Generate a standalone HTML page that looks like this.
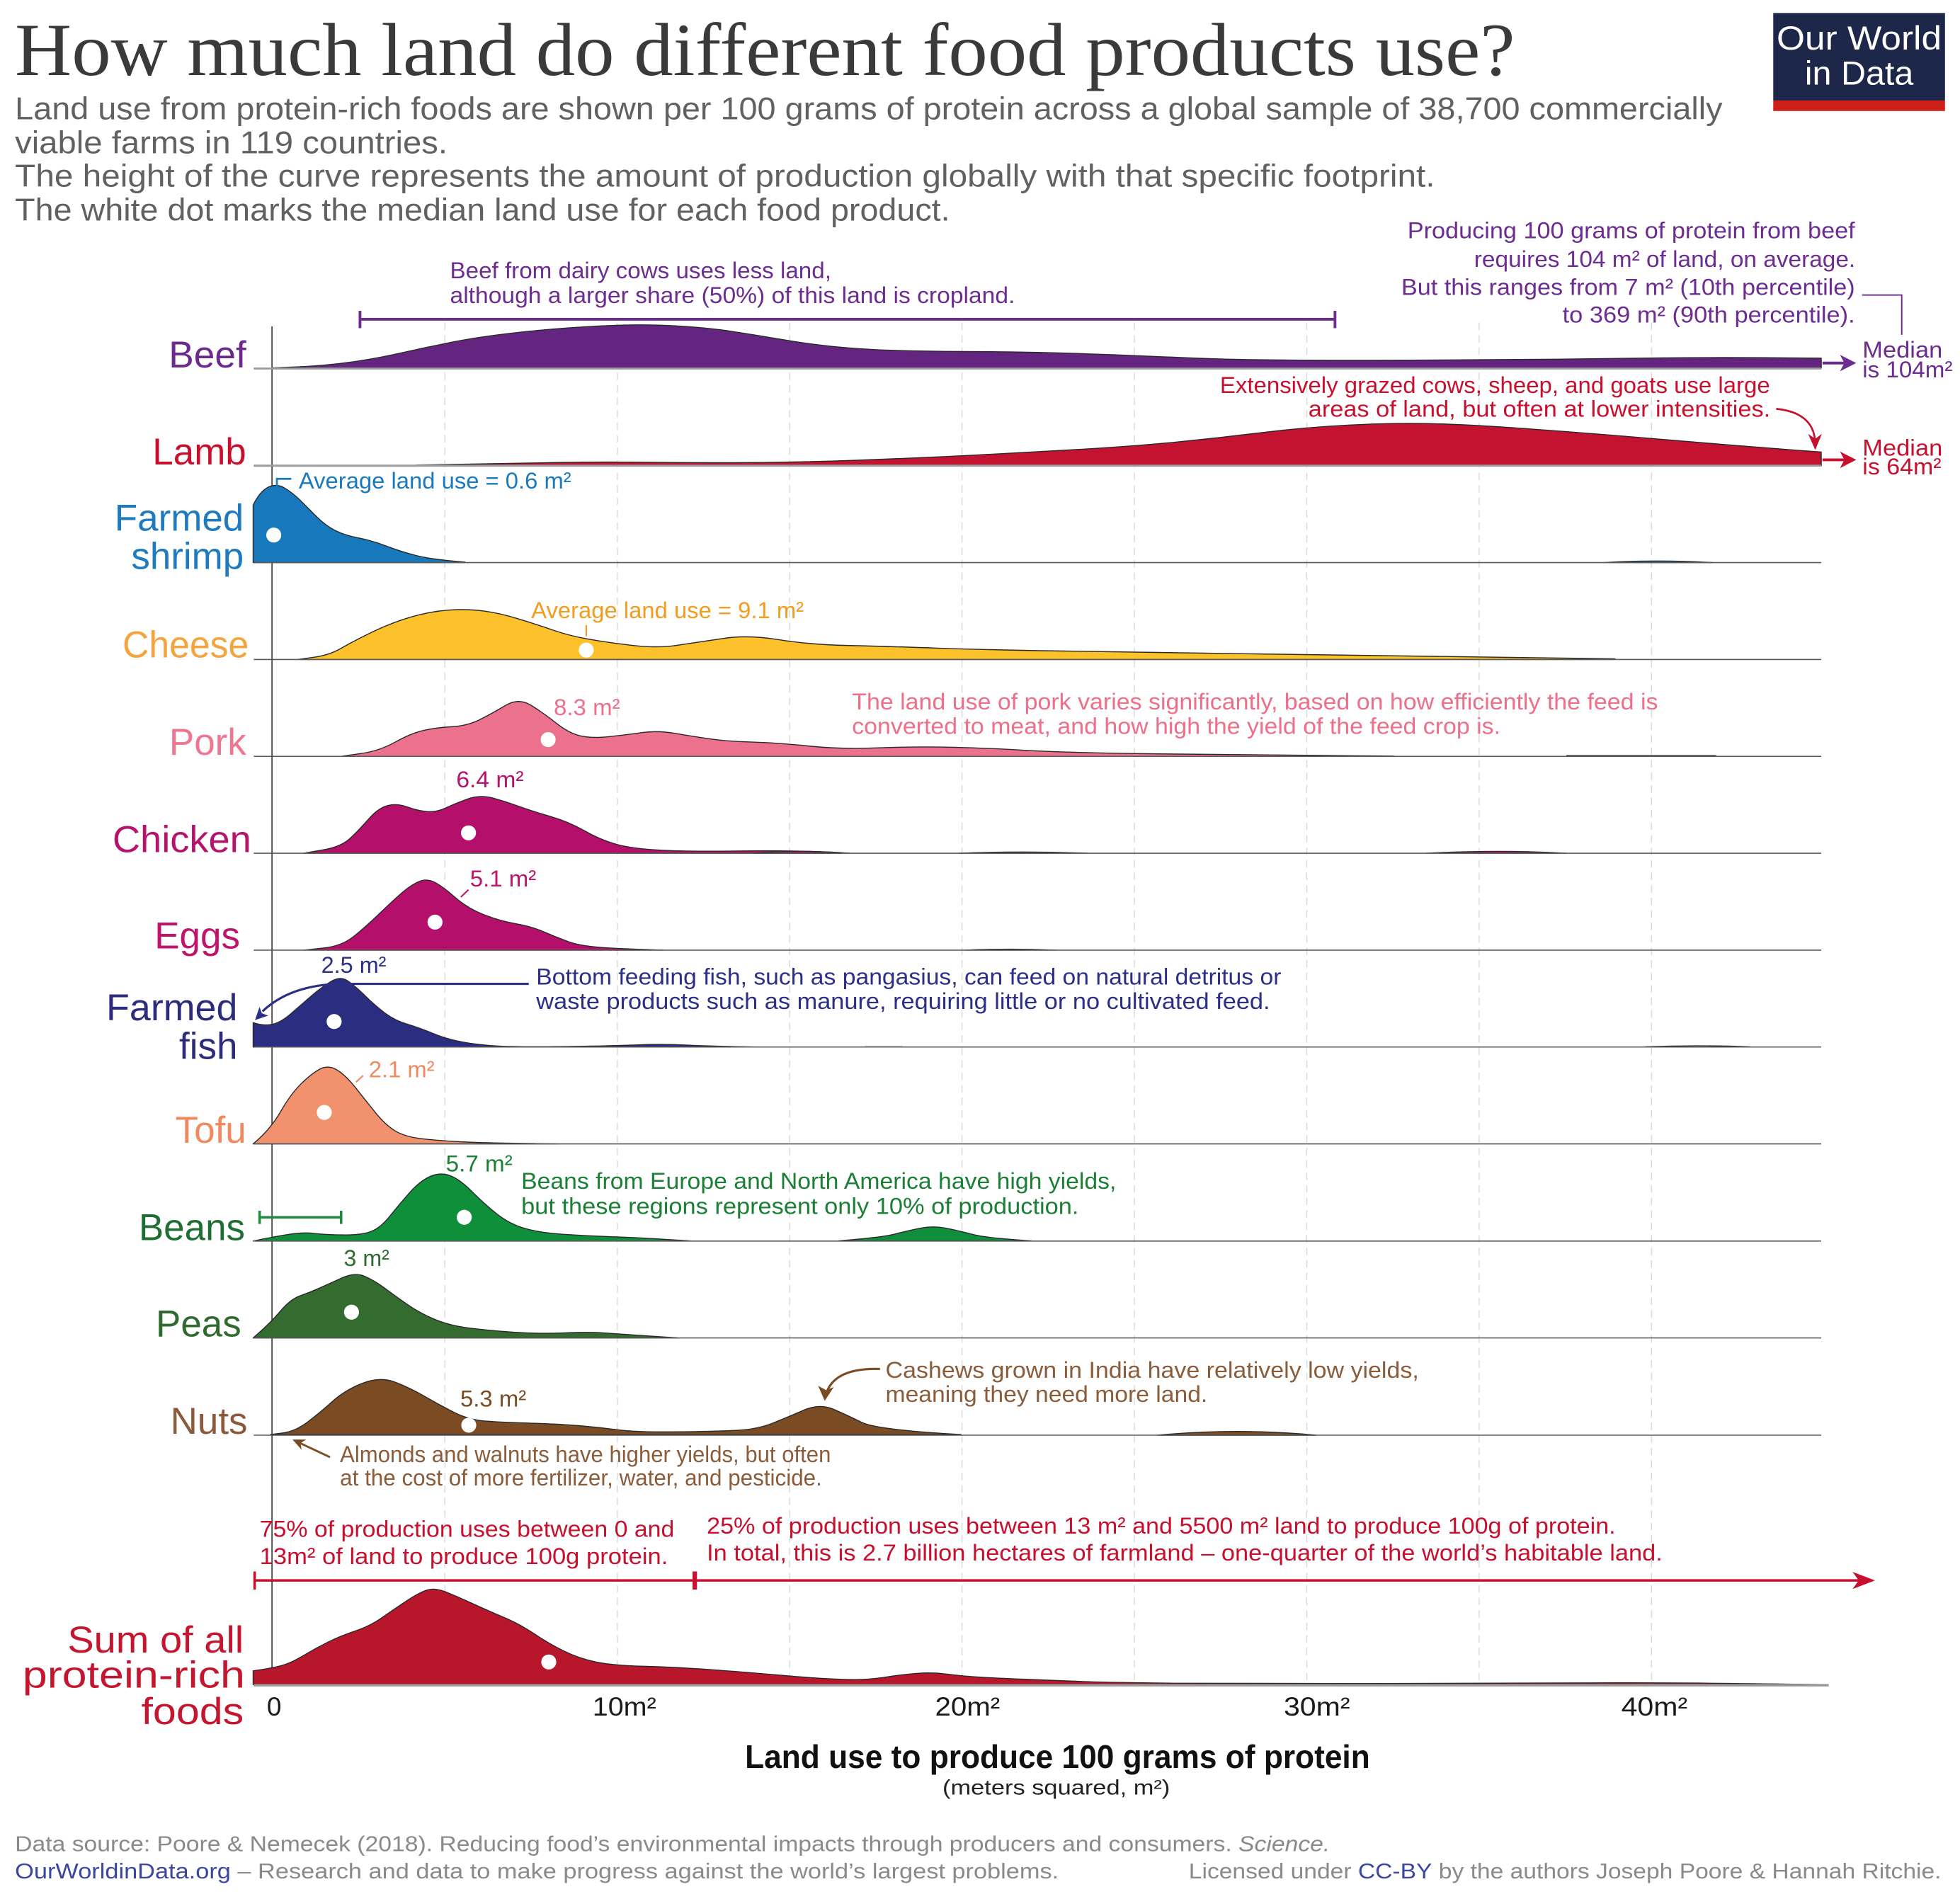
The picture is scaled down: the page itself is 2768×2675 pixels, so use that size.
<!DOCTYPE html>
<html><head><meta charset="utf-8"><style>html,body{margin:0;padding:0;background:#fff}svg{display:block}</style></head>
<body>
<svg xmlns="http://www.w3.org/2000/svg" width="2768" height="2675" viewBox="0 0 1568 1515" preserveAspectRatio="none" font-family="'Liberation Sans', Arial, sans-serif">
<rect x="0" y="0" width="1568" height="1515" fill="#ffffff"/>

<!-- Title & subtitle -->
<text x="12" y="60" font-family="'Liberation Serif', serif" font-size="60" fill="#3a3a3a" textLength="1200" lengthAdjust="spacingAndGlyphs">How much land do different food products use?</text>
<g font-size="25" fill="#616161">
<text x="12" y="95.5" textLength="1366" lengthAdjust="spacingAndGlyphs">Land use from protein-rich foods are shown per 100 grams of protein across a global sample of  38,700 commercially</text>
<text x="12" y="122.5" textLength="346" lengthAdjust="spacingAndGlyphs">viable farms in 119 countries.</text>
<text x="12" y="149.2" textLength="1136" lengthAdjust="spacingAndGlyphs">The height of the curve represents the amount of production globally with that specific footprint.</text>
<text x="12" y="176.3" textLength="748" lengthAdjust="spacingAndGlyphs">The white dot marks the median land use for each food product.</text>
</g>

<!-- Logo -->
<rect x="1418.6" y="10.4" width="137.4" height="70" fill="#1c2749"/>
<rect x="1418.6" y="80.4" width="137.4" height="8.4" fill="#cd201b"/>
<text x="1487.3" y="39.7" font-size="27" fill="#ffffff" text-anchor="middle" textLength="132" lengthAdjust="spacingAndGlyphs">Our World</text>
<text x="1487.3" y="67.6" font-size="27" fill="#ffffff" text-anchor="middle" textLength="87" lengthAdjust="spacingAndGlyphs">in Data</text>

<!-- Gridlines -->
<g stroke="#d9d9d9" stroke-width="0.8" stroke-dasharray="6 4">
<line x1="355.9" y1="258" x2="355.9" y2="1348"/>
<line x1="493.8" y1="258" x2="493.8" y2="1348"/>
<line x1="631.7" y1="258" x2="631.7" y2="1348"/>
<line x1="769.6" y1="258" x2="769.6" y2="1348"/>
<line x1="907.5" y1="258" x2="907.5" y2="1348"/>
<line x1="1045.4" y1="258" x2="1045.4" y2="1348"/>
<line x1="1183.3" y1="258" x2="1183.3" y2="1348"/>
<line x1="1321.2" y1="258" x2="1321.2" y2="1348"/>
</g>
<!-- Vertical axis -->
<line x1="217.6" y1="261" x2="217.6" y2="1348" stroke="#444" stroke-width="1"/>

<!-- Shapes -->
<g stroke="#2a2a2a" stroke-width="0.8" stroke-linejoin="round">
<!-- Beef -->
<path fill="#632580" d="M218,294.3 L239,293.4 Q260,292.5 280,289.75 Q300,287 320,282.5 Q340,278 360,274 Q380,270 405,267 Q430,264 455,262.25 Q480,260.5 500,260 Q520,259.5 542.5,260.75 Q565,262 585,265 Q605,268 625,271.5 Q645,275 667.5,277.25 Q690,279.5 715,280.25 Q740,281 770,281.15 Q800,281.3 830,281.9 Q860,282.5 890,283.75 Q920,285 955,286.4 Q990,287.8 1035,288.05 Q1080,288.3 1140,288.05 Q1200,287.8 1245,287.3 Q1290,286.8 1330,286.3 Q1370,285.8 1413.5,286.15 L1457,286.5 L1457,294.5 L218,294.5 Z"/>
<!-- Lamb -->
<path fill="#c41331" d="M333,372 L376.5,371.25 Q420,370.5 450,369.9 Q480,369.3 520,369.8 Q560,370.3 600,370 Q640,369.7 688,368 Q736,366.3 778,364.15 Q820,362 863,359.5 Q906,357 940.5,353.65 Q975,350.3 1009.5,346.05 Q1044,341.8 1079.5,340 Q1115,338.2 1142.5,338.8 Q1170,339.4 1209,342.05 Q1248,344.7 1288,348 Q1328,351.3 1367.5,354.6 Q1407,357.9 1457,361.6 L1457,372.5 L333,372.5 Z"/>
<!-- Shrimp -->
<path fill="#1878bc" d="M202.5,450 L202.5,404 Q208,393 214.5,389.75 Q221,386.5 227.5,390.25 Q234,394 240.5,400.5 Q247,407 253.5,413.5 Q260,420 267.5,424 Q275,428 286.5,430.25 Q298,432.5 309,436.75 Q320,441 332.5,444.25 Q345,447.5 372,449.6 L372,450 Z"/>
<path fill="#1878bc" d="M1283,450 Q1326,447.5 1370,450 Z"/>
<!-- Cheese -->
<path fill="#fcc12b" d="M238,527.5 L250.5,525.8 Q263,524.3 273,518.5 Q283,512.7 298,505.45 Q313,498.2 328.5,493.6 Q344,489 359,488 Q374,487 387,488.75 Q400,490.5 415,495.1 Q430,499.7 442.5,504.05 Q455,508.4 470.5,511.2 Q486,514 506,516.25 Q526,518.5 541,516.25 Q556,514 576.5,511 Q597,507.5 622,511.5 Q647,515.6 677.5,516.3 Q708,517 750.5,518.45 Q793,519.9 846.5,520.7 Q900,521.5 1000,523 Q1100,524.5 1292,527 L1292,527.5 Z"/>
<!-- Pork -->
<path fill="#ec718c" d="M273,605 L288,602.85 Q303,600.9 316,593.65 Q329,586.4 339,584.2 Q349,582 361.5,581.3 Q374,580.6 384,575.55 Q394,570.5 404.5,564.25 Q415,558 425,564.25 Q435,570.5 445,578.45 Q455,586.4 464,588.55 Q473,590.7 487,589.25 Q501,587.8 513.5,586 Q526,584.2 541,586.75 Q556,589.3 569,591.15 Q582,593 602,593.6 Q622,594.2 647.5,596.8 Q673,599.4 703,598.2 Q733,597 763,597.75 Q793,598.5 821.5,600.25 Q850,602 925,603 Q1000,604 1115,604.8 L1115,605 Z"/>
<path fill="none" d="M1253,604.4 L1373,604.4"/>
<!-- Chicken -->
<path fill="#b40f6b" d="M243,682.5 L258,679.9 Q273,677.5 280.5,670.25 Q288,663 295.5,654.5 Q303,646 310.5,644.25 Q318,642.5 326,645.5 Q334,648.5 341.5,649.15 Q349,649.8 356.5,646.3 Q364,642.8 374,639.15 Q384,635.5 394.5,638.4 Q405,641.3 415,644.95 Q425,648.6 440,652.95 Q455,657.3 467.5,664.5 Q480,671.7 493,675.35 Q506,679 531,680.15 Q556,681.3 594,680.65 Q632,680 673,682 L673,682.5 Z"/>
<path fill="#b40f6b" d="M600,682.5 Q640,679.5 680,682.5 Z M767,682.5 Q820,680.5 870,682.5 Z M1141,682.5 Q1199,679.5 1253,682.5 Z"/>
<!-- Eggs -->
<path fill="#b40f6b" d="M243,760 L258,758.4 Q273,757 283,749 Q293,741 303.5,730.85 Q314,720.7 321.5,714.2 Q329,707.7 335.25,705.1 Q341.5,702.5 347.75,705.75 Q354,709 364,717.75 Q374,726.5 387,731.6 Q400,736.7 412.5,738.85 Q425,741 435,745.35 Q445,749.7 455,753.35 Q465,757 485.5,758.15 Q506,759.3 531,760 Z"/>
<path fill="#b40f6b" d="M772,760 Q808,758.5 845,760 Z"/>
<!-- Farmed fish -->
<path fill="#2b2d80" d="M202.5,837.5 L202.5,818 Q210.5,820.8 217.45,819.4 Q224.4,818 232.35,811.15 Q240.3,804.3 248.25,797.35 Q256.2,790.4 264.15,785.45 Q272.1,780.5 278.05,784.5 Q284,788.5 291.95,796.4 Q299.9,804.3 307.85,810.25 Q315.8,816.2 325.75,819.2 Q335.7,822.2 347.6,827.1 Q359.5,832 375.4,834.4 Q391.3,836.8 411.15,837.15 Q431,837.5 460.85,837 Q490.7,836.5 510.55,835.75 Q530.4,835 550.25,836 Q570.1,837 609.9,837.5 Z"/>
<path fill="none" d="M692,837.3 L722,837.3 M1316,837.3 Q1358,835.8 1400,837.3"/>
<!-- Tofu -->
<path fill="#f2916d" d="M202.5,915 Q216.4,903.3 224.35,889.4 Q232.3,875.5 240.25,867.55 Q248.2,859.6 255.15,855.55 Q262.1,851.5 269.1,855.55 Q276.1,859.6 284.05,869.55 Q292,879.5 299.9,889.45 Q307.8,899.4 315.75,904.35 Q323.7,909.3 337.65,910.9 Q351.6,912.5 371.45,913.45 Q391.3,914.4 446.9,915 Z"/>
<!-- Beans -->
<path fill="#108f3b" d="M202.5,992.7 L211.45,990.9 Q220.4,989.1 231.35,987.35 Q242.3,985.6 251.25,986.6 Q260.2,987.6 274.1,987.8 Q288,988 295.95,985.4 Q303.9,982.8 311.85,972.85 Q319.8,962.9 327.75,953.95 Q335.7,945 343.65,941.25 Q351.6,937.5 359.55,940.25 Q367.5,943 377.4,952.95 Q387.3,962.9 397.25,970.85 Q407.2,978.8 419.1,982.4 Q431,986 450.9,987.35 Q470.8,988.7 490.65,989.3 Q510.5,989.9 554.2,992.7 Z"/>
<path fill="#108f3b" d="M671,992.5 Q705,990 716.5,987 Q728,984 737.3,982.25 Q746.6,980.5 755.8,982.25 Q765,984 777.5,987.25 Q790,990.5 825,992.5 Z"/>
<!-- Peas -->
<path fill="#346b2f" d="M202.5,1070.2 Q216.4,1058.3 224.35,1048.75 Q232.3,1039.2 240.25,1036.45 Q248.2,1033.7 256.15,1030.1 Q264.1,1026.5 274.05,1022 Q284,1017.5 291.95,1021 Q299.9,1024.5 307.85,1030.45 Q315.8,1036.4 325.75,1043.35 Q335.7,1050.3 347.6,1055.3 Q359.5,1060.3 375.4,1062.3 Q391.3,1064.3 411.15,1065.65 Q431,1067 450.9,1066.2 Q470.8,1065.4 482.7,1066.2 Q494.6,1067 542.3,1070.2 Z"/>
<!-- Nuts -->
<path fill="#7b4c24" d="M216.4,1147.5 L226.35,1146.2 Q236.3,1144.9 246.25,1137.35 Q256.2,1129.8 266.15,1120.85 Q276.1,1111.9 290,1106.45 Q303.9,1101 315.8,1105.5 Q327.7,1110 339.65,1116.95 Q351.6,1123.9 363.5,1129.85 Q375.4,1135.8 389.3,1136.8 Q403.2,1137.8 425.05,1138.4 Q446.9,1139 462.8,1140.35 Q478.7,1141.7 494.6,1143.7 Q510.5,1145.7 542.3,1145.3 Q574.1,1144.9 590,1144.05 Q605.9,1143.2 617.8,1138.5 Q629.7,1133.8 642.65,1128.15 Q655.6,1122.5 666.5,1127.15 Q677.4,1131.8 689.35,1137.75 Q701.3,1143.7 768.8,1147.5 Z"/>
<path fill="#7b4c24" d="M926,1148 Q989,1142 1053,1148 Z"/>
<!-- Sum -->
<path fill="#b8162a" d="M202.5,1347.5 L202.5,1336.5 Q216.4,1334.5 224.35,1332.5 Q232.3,1330.5 242.25,1324.55 Q252.2,1318.6 262.1,1313.65 Q272,1308.7 284,1304.7 Q296,1300.7 305.9,1293.75 Q315.8,1286.8 325.75,1280.25 Q335.7,1273.7 341.65,1271.85 Q347.6,1270 355.55,1273 Q363.5,1276 377.4,1282.4 Q391.3,1288.8 403.2,1293.75 Q415.1,1298.7 427.05,1306.65 Q439,1314.6 450.9,1320.55 Q462.8,1326.5 476.4,1329.35 Q490,1332.2 515,1332.85 Q540,1333.5 570,1335.65 Q600,1337.8 620,1339.65 Q640,1341.5 660,1342.65 Q680,1343.8 690,1343.35 Q700,1342.9 710,1341.3 Q720,1339.7 732.5,1338.6 Q745,1337.5 757.5,1339.1 Q770,1340.7 785,1341.6 Q800,1342.5 820,1343.25 Q840,1344 865,1345 Q890,1346 945,1346.4 Q1000,1346.8 1100,1346.65 Q1200,1346.5 1275,1346.15 Q1350,1345.8 1457,1347.5 Z"/>
</g>

<!-- Baselines -->
<g stroke="#9a9a9a" stroke-width="1.6">
<line x1="203" y1="294.8" x2="1457" y2="294.8"/>
<line x1="203" y1="372.5" x2="1457" y2="372.5"/>
<line x1="203" y1="1348" x2="1463" y2="1348" stroke-width="2"/>
</g>
<g stroke="#5a5a5a" stroke-width="0.9">
<line x1="203" y1="450" x2="1457" y2="450"/>
<line x1="203" y1="527.5" x2="1457" y2="527.5"/>
<line x1="203" y1="605" x2="1457" y2="605"/>
<line x1="203" y1="682.5" x2="1457" y2="682.5"/>
<line x1="203" y1="760" x2="1457" y2="760"/>
<line x1="203" y1="837.5" x2="1457" y2="837.5"/>
<line x1="203" y1="915" x2="1457" y2="915"/>
<line x1="203" y1="992.7" x2="1457" y2="992.7"/>
<line x1="203" y1="1070.2" x2="1457" y2="1070.2"/>
<line x1="203" y1="1148" x2="1457" y2="1148"/>
</g>

<!-- Median dots -->
<g fill="#ffffff">
<circle cx="219" cy="428" r="6"/>
<circle cx="469" cy="520" r="6"/>
<circle cx="438.5" cy="591.6" r="6"/>
<circle cx="374.8" cy="666.2" r="6"/>
<circle cx="348" cy="737.6" r="6"/>
<circle cx="267.3" cy="817.1" r="6"/>
<circle cx="259.4" cy="889.8" r="6"/>
<circle cx="371.4" cy="973.7" r="6"/>
<circle cx="281.2" cy="1049.6" r="6"/>
<circle cx="375" cy="1140" r="6"/>
<circle cx="439" cy="1329.4" r="6"/>
</g>

<!-- Row labels -->
<g font-size="30" text-anchor="end">
<text x="197" y="294" fill="#6b2a8c" textLength="62" lengthAdjust="spacingAndGlyphs">Beef</text>
<text x="197" y="371.6" fill="#c8102e">Lamb</text>
<text x="195" y="424.6" fill="#1f7bc0">Farmed</text>
<text x="195" y="455" fill="#1f7bc0">shrimp</text>
<text x="199" y="526" fill="#f5a33d" textLength="101" lengthAdjust="spacingAndGlyphs">Cheese</text>
<text x="197" y="603.7" fill="#ef7590">Pork</text>
<text x="201" y="681.6" fill="#b5136c" textLength="111" lengthAdjust="spacingAndGlyphs">Chicken</text>
<text x="192" y="758.5" fill="#c0146b">Eggs</text>
<text x="190" y="816" fill="#2b2c7c" textLength="105" lengthAdjust="spacingAndGlyphs">Farmed</text>
<text x="190" y="847" fill="#2b2c7c">fish</text>
<text x="197" y="914" fill="#f2895e">Tofu</text>
<text x="196" y="992" fill="#1f6f35">Beans</text>
<text x="193" y="1069" fill="#2f6b2e">Peas</text>
<text x="198" y="1147" fill="#8b5a3c">Nuts</text>
<text x="195" y="1322" fill="#c4162e" textLength="141" lengthAdjust="spacingAndGlyphs">Sum of all</text>
<text x="196" y="1350" fill="#c4162e" textLength="178" lengthAdjust="spacingAndGlyphs">protein-rich</text>
<text x="195" y="1379" fill="#c4162e" textLength="82" lengthAdjust="spacingAndGlyphs">foods</text>
</g>

<!-- Beef annotations -->
<g fill="#6c2c91" font-size="18.5">
<text x="360" y="222.5" textLength="305" lengthAdjust="spacingAndGlyphs">Beef from dairy cows uses less land,</text>
<text x="360" y="242.3" textLength="452" lengthAdjust="spacingAndGlyphs">although a larger share (50%) of this land is cropland.</text>
<text x="1126" y="190.7" textLength="358" lengthAdjust="spacingAndGlyphs">Producing 100 grams of protein from beef</text>
<text x="1179.3" y="213.4" textLength="305" lengthAdjust="spacingAndGlyphs">requires 104 m² of land, on average.</text>
<text x="1121" y="236" textLength="363" lengthAdjust="spacingAndGlyphs">But this ranges from 7 m² (10th percentile)</text>
<text x="1250" y="258.1" textLength="234" lengthAdjust="spacingAndGlyphs">to 369 m² (90th percentile).</text>
<text x="1490" y="286" textLength="64" lengthAdjust="spacingAndGlyphs">Median</text>
<text x="1490" y="302" textLength="72" lengthAdjust="spacingAndGlyphs">is 104m²</text>
</g>
<g stroke="#6c2c91" fill="none">
<path d="M288,255.4 L1068,255.4 M288,248.6 L288,262.5 M1068,248.6 L1068,262.5" stroke-width="2.2"/>
<path d="M1489.6,236 L1521.4,236 L1521.4,267.8" stroke-width="1.1"/>
<line x1="1458" y1="290.4" x2="1478" y2="290.4" stroke-width="2.2"/>
</g>
<polygon points="1485,290.4 1472,283.8 1475.5,290.4 1472,297" fill="#6c2c91"/>

<!-- Lamb annotations -->
<g fill="#c8102e" font-size="18.5">
<text x="976" y="314.4" textLength="440" lengthAdjust="spacingAndGlyphs">Extensively grazed cows, sheep, and goats use large</text>
<text x="1046.7" y="333.3" textLength="369.6" lengthAdjust="spacingAndGlyphs">areas of land, but often at lower intensities.</text>
<text x="1490" y="364.4" textLength="64" lengthAdjust="spacingAndGlyphs">Median</text>
<text x="1490" y="379.5" textLength="63" lengthAdjust="spacingAndGlyphs">is 64m²</text>
</g>
<g stroke="#c8102e" fill="none">
<path d="M1421,327 Q1450,330 1452,352" stroke-width="1.5"/>
<line x1="1458" y1="367.8" x2="1478" y2="367.8" stroke-width="2.2"/>
</g>
<polygon points="1452.2,360 1446.5,347 1452.2,351 1457.5,347" fill="#c8102e"/>
<polygon points="1485,367.8 1472,361.2 1475.5,367.8 1472,374.4" fill="#c8102e"/>

<!-- Shrimp annotation -->
<path d="M233,383 L221.5,383 L221.5,389" stroke="#1a7abf" stroke-width="1.5" fill="none"/>
<text x="239" y="390.9" font-size="18.5" fill="#1a7abf" textLength="218" lengthAdjust="spacingAndGlyphs">Average land use = 0.6 m²</text>

<!-- Cheese annotation -->
<line x1="469" y1="500" x2="469" y2="509" stroke="#f39c1f" stroke-width="1.2"/>
<text x="425" y="494.5" font-size="18.5" fill="#f39c1f" textLength="218" lengthAdjust="spacingAndGlyphs">Average land use = 9.1 m²</text>

<!-- Pork -->
<g fill="#ef6f8b" font-size="18.5">
<text x="443" y="572" textLength="53" lengthAdjust="spacingAndGlyphs">8.3 m²</text>
<text x="681.6" y="567.4" textLength="644.8" lengthAdjust="spacingAndGlyphs">The land use of pork varies significantly, based on how efficiently the feed is</text>
<text x="681.6" y="586.9" textLength="518.8" lengthAdjust="spacingAndGlyphs">converted to meat, and how high the yield of the feed crop is.</text>
</g>

<!-- Chicken / Eggs -->
<text x="365" y="629.8" font-size="18.5" fill="#b5136c" textLength="54" lengthAdjust="spacingAndGlyphs">6.4 m²</text>
<text x="376" y="709.2" font-size="18.5" fill="#c0146b" textLength="53" lengthAdjust="spacingAndGlyphs">5.1 m²</text>
<line x1="368.7" y1="717.5" x2="374.8" y2="711.7" stroke="#c0146b" stroke-width="1.2"/>

<!-- Fish -->
<g fill="#2b2f86" font-size="18.5">
<text x="257" y="778.1" textLength="52" lengthAdjust="spacingAndGlyphs">2.5 m²</text>
<text x="429" y="787.5" textLength="596" lengthAdjust="spacingAndGlyphs">Bottom feeding fish, such as pangasius, can feed on natural detritus or</text>
<text x="429" y="807.2" textLength="587" lengthAdjust="spacingAndGlyphs">waste products such as manure, requiring little or no cultivated feed.</text>
</g>
<path d="M423,787 L272,787 Q232,788 210,809" stroke="#2b2f86" stroke-width="1.8" fill="none"/>
<polygon points="204,816 214.6,812.4 209.5,810.5 207.6,805.4" fill="#2b2f86"/>

<!-- Tofu -->
<text x="295" y="861.6" font-size="18.5" fill="#f2895e" textLength="52.6" lengthAdjust="spacingAndGlyphs">2.1 m²</text>
<line x1="284.8" y1="865.6" x2="290.4" y2="860.4" stroke="#f2895e" stroke-width="1.2"/>

<!-- Beans -->
<g fill="#1b7f35" font-size="18.5">
<text x="356.7" y="937.1" textLength="53.3" lengthAdjust="spacingAndGlyphs">5.7 m²</text>
<text x="417" y="951" textLength="476" lengthAdjust="spacingAndGlyphs">Beans from Europe and North America have high yields,</text>
<text x="417" y="971" textLength="446" lengthAdjust="spacingAndGlyphs">but these regions represent only 10% of production.</text>
</g>
<path d="M207.7,973.7 L272.9,973.7 M207.7,968.5 L207.7,979 M272.9,968.5 L272.9,979" stroke="#1f8a3c" stroke-width="2" fill="none"/>

<!-- Peas -->
<text x="275" y="1012.6" font-size="18.5" fill="#2f6b2e" textLength="36.5" lengthAdjust="spacingAndGlyphs">3 m²</text>

<!-- Nuts -->
<g fill="#7b4c24" font-size="18.5">
<text x="368.2" y="1125" textLength="52.8" lengthAdjust="spacingAndGlyphs">5.3 m²</text>
</g>
<g fill="#8a5c3a" font-size="18.5">
<text x="708.4" y="1102" textLength="426.7" lengthAdjust="spacingAndGlyphs">Cashews grown in India have relatively low yields,</text>
<text x="708.4" y="1121.5" textLength="257.6" lengthAdjust="spacingAndGlyphs">meaning they need more land.</text>
<text x="272" y="1169.6" textLength="392.7" lengthAdjust="spacingAndGlyphs">Almonds and walnuts have higher yields, but often</text>
<text x="272" y="1188.2" textLength="385.6" lengthAdjust="spacingAndGlyphs">at the cost of more fertilizer, water, and pesticide.</text>
</g>
<path d="M704,1095 Q670,1094 662,1112" stroke="#7b4c24" stroke-width="1.8" fill="none"/>
<polygon points="659.8,1120.5 654.5,1108.5 661,1112 667,1109.5" fill="#7b4c24"/>
<path d="M264,1165.6 L240,1154.3" stroke="#7b4c24" stroke-width="1.6" fill="none"/>
<polygon points="234,1151.5 245,1151.5 240.4,1154.4 241.3,1159.7" fill="#7b4c24"/>

<!-- Sum annotations -->
<g fill="#c8102e" font-size="18.5">
<text x="207.7" y="1229.2" textLength="331.8" lengthAdjust="spacingAndGlyphs">75% of production uses between 0 and</text>
<text x="207.7" y="1251" textLength="326.7" lengthAdjust="spacingAndGlyphs">13m² of land to produce 100g protein.</text>
<text x="565.4" y="1226.6" textLength="727.1" lengthAdjust="spacingAndGlyphs">25% of production uses between 13 m² and 5500 m² land to produce 100g of protein.</text>
<text x="565.4" y="1248.3" textLength="764.6" lengthAdjust="spacingAndGlyphs">In total, this is 2.7 billion hectares of farmland – one-quarter of the world’s habitable land.</text>
</g>
<g stroke="#c8102e" fill="none">
<line x1="203.7" y1="1264.2" x2="1488" y2="1264.2" stroke-width="2"/>
<line x1="203.7" y1="1257" x2="203.7" y2="1271.5" stroke-width="2"/>
<line x1="555.8" y1="1257" x2="555.8" y2="1271.5" stroke-width="3.5"/>
</g>
<polygon points="1500,1264.2 1482,1257.3 1487,1264.2 1482,1271.1" fill="#c8102e"/>

<!-- X axis labels -->
<g font-size="21" fill="#1a1a1a">
<text x="213.5" y="1372.4">0</text>
<text x="474" y="1372.4" textLength="51" lengthAdjust="spacingAndGlyphs">10m²</text>
<text x="748" y="1372.4" textLength="52" lengthAdjust="spacingAndGlyphs">20m²</text>
<text x="1027" y="1372.4" textLength="53" lengthAdjust="spacingAndGlyphs">30m²</text>
<text x="1297" y="1372.4" textLength="53" lengthAdjust="spacingAndGlyphs">40m²</text>
</g>
<text x="596" y="1414.3" font-size="26" font-weight="bold" fill="#111" textLength="500" lengthAdjust="spacingAndGlyphs">Land use to produce 100 grams of protein</text>
<text x="754" y="1435.5" font-size="17" fill="#222" textLength="182" lengthAdjust="spacingAndGlyphs">(meters squared, m²)</text>

<!-- Footer -->
<g font-size="17.5" fill="#8a8a8a">
<text x="12" y="1480.8" textLength="1052" lengthAdjust="spacingAndGlyphs">Data source: Poore &amp; Nemecek (2018). Reducing food’s environmental impacts through producers and consumers. <tspan font-style="italic">Science.</tspan></text>
<text x="12" y="1502.5" textLength="835" lengthAdjust="spacingAndGlyphs"><tspan fill="#3b46a0">OurWorldinData.org</tspan> – Research and data to make progress against the world’s largest problems.</text>
<text x="951" y="1502.5" textLength="602" lengthAdjust="spacingAndGlyphs">Licensed under <tspan fill="#3b46a0">CC-BY</tspan> by the authors Joseph Poore &amp; Hannah Ritchie.</text>
</g>
</svg>
</body></html>
